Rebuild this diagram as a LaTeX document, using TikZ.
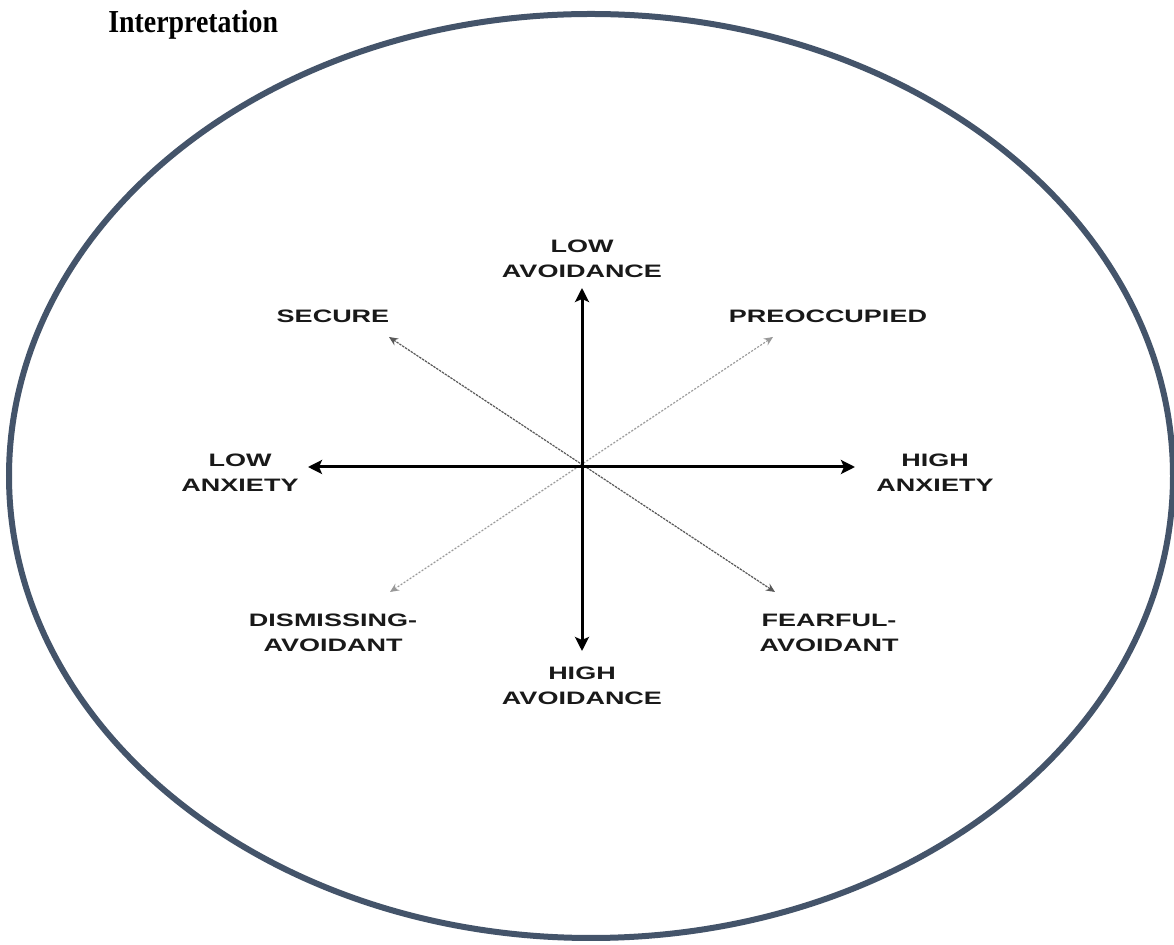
\documentclass[tikz,border=0pt]{standalone}
\usepackage{fontspec}
\usetikzlibrary{arrows.meta}
\newfontfamily\labfont[FakeStretch=1.5]{Liberation Sans}
\newfontfamily\titfont[FakeStretch=0.87]{Liberation Serif}
\definecolor{ringcol}{HTML}{44546A}
\tikzset{
  lab/.style={font=\labfont\bfseries\fontsize{9}{12.5}\selectfont, align=center, inner sep=0pt, text=black!90},
  axis/.style={line width=1.5pt, {Stealth[length=7pt,width=7pt,inset=1.5pt]}-{Stealth[length=7pt,width=7pt,inset=1.5pt]}},
  diagA/.style={line width=0.6pt, draw=black!65, dash pattern=on 1.2pt off 0.5pt, {Stealth[length=4.5pt,width=4pt]}-{Stealth[length=4.5pt,width=4pt]}},
  diagB/.style={line width=0.6pt, draw=black!40, dash pattern=on 1pt off 0.8pt, {Stealth[length=4.5pt,width=4pt]}-{Stealth[length=4.5pt,width=4pt]}},
  ring/.style={draw=ringcol, line width=3pt},
  titlestyle/.style={font=\titfont\bfseries\fontsize{16}{18}\selectfont, inner sep=0pt, anchor=base west}
}
\begin{document}
\begin{tikzpicture}[x=0.5pt,y=-0.5pt]
\useasboundingbox (0,0) rectangle (1174,945);
\clip (0,0) rectangle (1174,945);
\fill[white] (0,0) rectangle (1174,945);
% ring
\draw[ring] (591,476) ellipse [x radius=582, y radius=462];
% title (visible line)
\node[titlestyle] (title) at (108,33) {Interpretation};
% axis tip coordinates
\coordinate (O) at (582,467);
\coordinate (tU) at (582,288);
\coordinate (tD) at (582,651);
\coordinate (tL) at (308,467);
\coordinate (tR) at (855,467);
\coordinate (tSec) at (389,337);
\coordinate (tFea) at (775,592);
\coordinate (tPre) at (773,337);
\coordinate (tDis) at (390,592);
% connectors
\draw[diagA] (tSec) -- (tFea);
\draw[diagB] (tDis) -- (tPre);
\draw[axis] (tU) -- (tD);
\draw[axis] (tL) -- (tR);
% labels
\node[lab] (lowav) at (582,259) {LOW\\AVOIDANCE};
\node[lab] (highav) at (582,686) {HIGH\\AVOIDANCE};
\node[lab] (lowanx) at (240,473) {LOW\\ANXIETY};
\node[lab] (highanx) at (935,473) {HIGH\\ANXIETY};
\node[lab] (secure) at (333,316) {SECURE};
\node[lab] (preocc) at (828,316) {PREOCCUPIED};
\node[lab] (dismiss) at (333,633) {DISMISSING-\\AVOIDANT};
\node[lab] (fearful) at (829,633) {FEARFUL-\\AVOIDANT};
\end{tikzpicture}
\end{document}
